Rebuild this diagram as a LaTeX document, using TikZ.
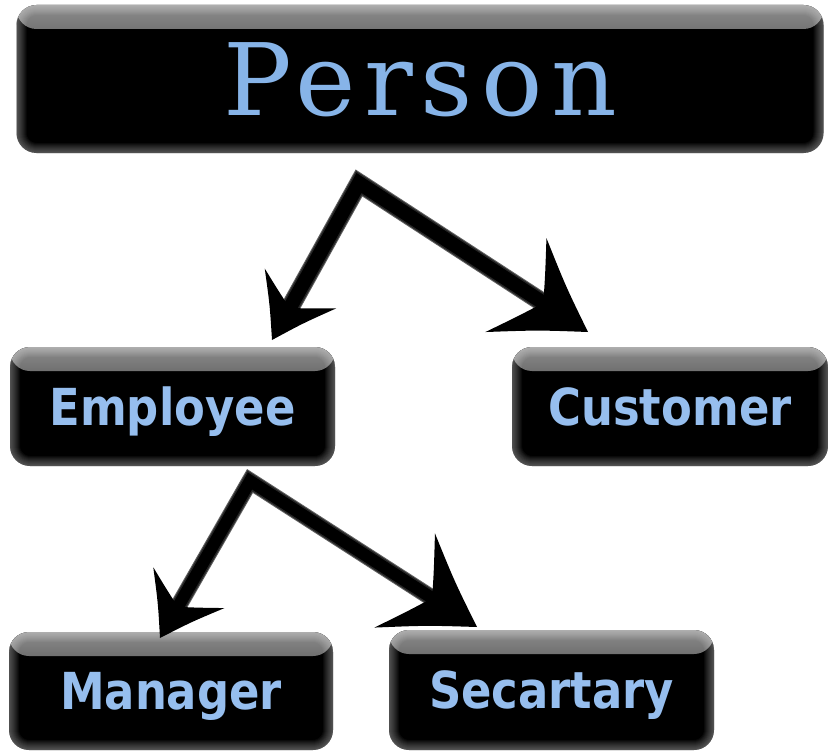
\documentclass[tikz,border=0pt]{standalone}
\usepackage{fontspec}
\usetikzlibrary{calc}
\newfontfamily\labelfont{DejaVu Sans}
\newfontfamily\titlefont[LetterSpace=8]{DejaVu Serif}
\definecolor{labelblue}{RGB}{150,190,238}
\definecolor{titleblue}{RGB}{135,180,232}

\newcommand\barbhead[4]{%
  \pgfmathsetlengthmacro\bhL{#3}%
  \pgfmathsetlengthmacro\bhW{#4/2}%
  \pgfmathsetlengthmacro\bhA{0.5*#3}%
  \pgfmathsetlengthmacro\bhB{0.46*#4/2}%
  \pgfmathsetlengthmacro\bhC{0.78*#3}%
  \pgfmathsetlengthmacro\bhD{0.44*#4/2}%
  \pgfmathsetlengthmacro\bhN{0.62*#3}%
  \fill[black] (#1)
    .. controls ($(#1)!\bhA!(#2)!\bhB!90:(#2)$) .. ($(#1)!\bhL!(#2)!\bhW!90:(#2)$)
    .. controls ($(#1)!\bhC!(#2)!\bhD!90:(#2)$) .. ($(#1)!\bhN!(#2)$)
    .. controls ($(#1)!\bhC!(#2)!\bhD!-90:(#2)$) .. ($(#1)!\bhL!(#2)!\bhW!-90:(#2)$)
    .. controls ($(#1)!\bhA!(#2)!\bhB!-90:(#2)$) .. (#1) -- cycle;}

\begin{document}
\begin{tikzpicture}[x=1pt,y=-1pt,
  box/.style={rounded corners=20pt, fill=black, inner sep=0pt, text=labelblue,
    path picture={
      \shade[top color=black!45, bottom color=black]
        (path picture bounding box.north west) rectangle
        ($(path picture bounding box.north east)+(0,24)$);
      \foreach \k in {1,...,10}
        \draw[white, opacity=0.04, line width=2*\k pt, rounded corners=20pt]
          (path picture bounding box.north west) rectangle
          (path picture bounding box.south east);
    }},
  lbl/.style={font=\labelfont\bfseries\fontsize{51}{51}\selectfont, text height=37pt, text depth=0pt},
  shafta/.style={line width=19pt, line join=miter, black!62},
  shaftb/.style={line width=17pt, line join=miter, black!85},
  shaftc/.style={line width=14pt, line join=miter, black}]
\useasboundingbox[fill=white] (0,0) rectangle (828,752);

\node[box, minimum width=807pt, minimum height=148pt, text=titleblue,
  font=\titlefont\fontsize{100}{100}\selectfont, text height=73pt, text depth=0pt]
  (Person) at (420,79) {\scalebox{1.02}[1]{Person}};
\node[box, lbl, minimum width=325pt, minimum height=119pt] (Employee) at (172.5,406.5) {\scalebox{0.88}[1]{Employee}};
\node[box, lbl, minimum width=316pt, minimum height=119pt] (Customer) at (670,406.5) {\scalebox{0.88}[1]{Customer}};
\node[box, lbl, minimum width=324pt, minimum height=118pt] (Manager) at (171,691) {\scalebox{0.88}[1]{Manager}};
\node[box, lbl, minimum width=325pt, minimum height=120pt] (Secartary) at (551.5,690) {\scalebox{0.88}[1]{Secartary}};

\coordinate (aP) at (359,183);
\coordinate (tE) at (272,340);
\coordinate (tC) at (588,332);
\coordinate (aE) at (250,481);
\coordinate (tM) at (160,638);
\coordinate (tS) at (477,627);

\foreach \s in {shafta,shaftb,shaftc}
  \draw[\s] ($(tE)!30pt!(aP)$) -- (aP) -- ($(tC)!45pt!(aP)$);
\barbhead{tE}{aP}{59}{82}
\barbhead{tC}{aP}{86}{112}
\foreach \s/\w in {shafta/17,shaftb/15,shaftc/12}
  \draw[\s, line width=\w pt] ($(tM)!30pt!(aE)$) -- (aE) -- ($(tS)!45pt!(aE)$);
\barbhead{tM}{aE}{58}{82}
\barbhead{tS}{aE}{86}{112}
\end{tikzpicture}
\end{document}
